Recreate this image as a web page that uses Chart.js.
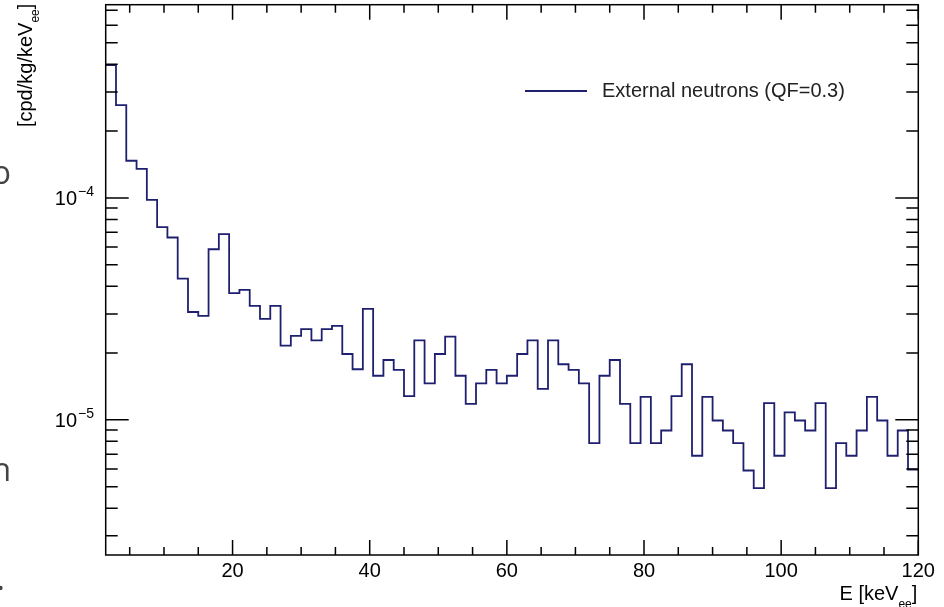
<!DOCTYPE html>
<html>
<head>
<meta charset="utf-8">
<script src="https://cdn.jsdelivr.net/npm/chart.js@4.4.1/dist/chart.umd.min.js"></script>
<style>
  html, body { margin: 0; padding: 0; background: #fff; }
  canvas { display: block; }
</style>
</head>
<body>
<canvas id="spectrum" width="944" height="607"></canvas>
<script>
// Histogram: 79 bins of 1.5 keV, from 1.5 to 120 keV
const BIN_LOW = 1.5;
const BIN_WIDTH = 1.5;
const binValues = [
    3.97e-4, 2.62e-4, 1.47e-4, 1.35e-4, 9.8e-5, 7.38e-5, 6.63e-5, 4.33e-5, 3.06e-5, 2.94e-5,
    5.87e-5, 6.86e-5, 3.72e-5, 3.85e-5, 3.26e-5, 2.85e-5, 3.26e-5, 2.16e-5, 2.39e-5, 2.56e-5,
    2.28e-5, 2.56e-5, 2.65e-5, 1.98e-5, 1.69e-5, 3.16e-5, 1.58e-5, 1.86e-5, 1.68e-5, 1.28e-5,
    2.28e-5, 1.46e-5, 1.98e-5, 2.37e-5, 1.58e-5, 1.18e-5, 1.46e-5, 1.68e-5, 1.46e-5, 1.58e-5,
    1.98e-5, 2.28e-5, 1.38e-5, 2.28e-5, 1.78e-5, 1.68e-5, 1.46e-5, 7.85e-6, 1.58e-5, 1.86e-5,
    1.18e-5, 7.85e-6, 1.27e-5, 7.85e-6, 8.95e-6, 1.28e-5, 1.78e-5, 6.89e-6, 1.27e-5, 9.93e-6,
    8.95e-6, 7.85e-6, 5.91e-6, 4.92e-6, 1.19e-5, 6.89e-6, 1.08e-5, 9.93e-6, 8.95e-6, 1.19e-5,
    4.92e-6, 7.85e-6, 6.89e-6, 8.95e-6, 1.27e-5, 9.93e-6, 6.89e-6, 8.95e-6, 5.96e-6
];

const xTickValues = [20, 40, 60, 80, 100, 120];
const xTickLabels = ['20', '40', '60', '80', '100', '120'];
const yTickValues = [1e-5, 1e-4];
const yTickLabels = [['10', '\u22125'], ['10', '\u22124']];

const seriesLabel = 'External neutrons (QF=0.3)';
const xTitle = ['E [keV', 'ee', ']'];
const yTitle = ['[cpd/kg/keV', 'ee', ']'];

const X_MIN = 1.5, X_MAX = 120;
const Y_MIN = 2.46e-6, Y_MAX = 7.42e-4;

const FONT = '"Liberation Sans", Arial, Helvetica, sans-serif';
const LINE_COLOR = '#1f1f70';

// Points on the bin low edges, plus the closing edge of the last bin
function buildPoints() {
    const pts = binValues.map((v, i) => ({ x: BIN_LOW + i * BIN_WIDTH, y: v }));
    pts.push({ x: BIN_LOW + binValues.length * BIN_WIDTH, y: binValues[binValues.length - 1] });
    return pts;
}

/**
 * Cadre, graduations intérieures (style ROOT), titres et légende
 */
const rootFrame = {
    id: 'rootFrame',
    afterDatasetsDraw(chart) {
        const c = chart.ctx;
        const area = chart.chartArea;
        const xs = chart.scales.x;
        const ys = chart.scales.y;

        c.save();
        c.strokeStyle = '#000';
        c.lineWidth = 1.5;

        // ticks x (bas et haut)
        c.beginPath();
        for (let v = 5; v <= X_MAX; v += 5) {
            const px = xs.getPixelForValue(v);
            const len = (v % 20 === 0) ? 15 : 8;
            c.moveTo(px, area.bottom); c.lineTo(px, area.bottom - len);
            c.moveTo(px, area.top); c.lineTo(px, area.top + len);
        }
        // ticks y (gauche et droite)
        for (let d = -6; d <= -4; d++) {
            for (let m = 1; m <= 9; m++) {
                const v = m * Math.pow(10, d);
                if (v < Y_MIN || v > Y_MAX) continue;
                const py = ys.getPixelForValue(v);
                const len = (m === 1) ? 23 : 12;
                c.moveTo(area.left, py); c.lineTo(area.left + len, py);
                c.moveTo(area.right, py); c.lineTo(area.right - len, py);
            }
        }
        c.stroke();

        // cadre
        c.strokeRect(area.left, area.top, area.right - area.left, area.bottom - area.top);

        // labels y : 10 avec exposant
        c.fillStyle = '#000';
        yTickValues.forEach((v, i) => {
            const py = ys.getPixelForValue(v);
            c.font = '20px ' + FONT;
            c.textAlign = 'right';
            c.textBaseline = 'middle';
            c.fillText(yTickLabels[i][0], 77, py + 2);
            c.font = '14px ' + FONT;
            c.textAlign = 'left';
            c.fillText(yTickLabels[i][1], 78, py - 6);
        });

        // titre x, aligné à droite
        c.textBaseline = 'alphabetic';
        c.font = '20px ' + FONT;
        const wBr = c.measureText(xTitle[2]).width;
        c.font = '12px ' + FONT;
        const wSub = c.measureText(xTitle[1]).width;
        let xr = area.right - 1;
        c.font = '20px ' + FONT;
        c.textAlign = 'right';
        c.fillText(xTitle[2], xr, 600);
        xr -= wBr;
        c.font = '12px ' + FONT;
        c.fillText(xTitle[1], xr, 608);
        xr -= wSub;
        c.font = '20px ' + FONT;
        c.fillText(xTitle[0], xr, 600);

        // titre y, vertical, aligné en haut
        c.save();
        c.translate(32, area.top - 1);
        c.rotate(-Math.PI / 2);
        c.textAlign = 'right';
        c.font = '20px ' + FONT;
        const yBr = c.measureText(yTitle[2]).width;
        c.font = '12px ' + FONT;
        const ySub = c.measureText(yTitle[1]).width;
        let yr = 0;
        c.font = '20px ' + FONT;
        c.fillText(yTitle[2], yr, 0);
        yr -= yBr;
        c.font = '12px ' + FONT;
        c.fillText(yTitle[1], yr, 7);
        yr -= ySub;
        c.font = '20px ' + FONT;
        c.fillText(yTitle[0], yr, 0);
        c.restore();

        // légende
        c.strokeStyle = LINE_COLOR;
        c.lineWidth = 1.8;
        c.beginPath();
        c.moveTo(525, 91); c.lineTo(587, 91);
        c.stroke();
        c.fillStyle = '#222';
        c.font = '20px ' + FONT;
        c.textAlign = 'left';
        c.textBaseline = 'middle';
        c.fillText(seriesLabel, 602, 91);

        // fragments de texte coupés au bord gauche
        c.fillStyle = '#444';
        c.font = '32px "Open Sans", sans-serif';
        c.textAlign = 'right';
        c.textBaseline = 'alphabetic';
        c.fillText('o', 11, 184);
        c.fillText('n', 11, 481);
        c.fillText('.', 5, 590);

        c.restore();
    }
};

document.addEventListener('DOMContentLoaded', function() {
    const ctx = document.getElementById('spectrum').getContext('2d');
    new Chart(ctx, {
        type: 'line',
        data: {
            datasets: [{
                label: seriesLabel,
                data: buildPoints(),
                stepped: true,
                borderColor: LINE_COLOR,
                borderWidth: 1.8,
                pointRadius: 0,
                fill: false,
                tension: 0
            }]
        },
        options: {
            responsive: false,
            animation: false,
            layout: { padding: { left: 105.7, right: 25.7, top: 4.7, bottom: 0 } },
            plugins: {
                legend: { display: false },
                tooltip: { enabled: false }
            },
            scales: {
                x: {
                    type: 'linear',
                    min: X_MIN,
                    max: X_MAX,
                    grid: { display: false, drawTicks: false },
                    border: { display: false },
                    afterBuildTicks: (s) => { s.ticks = xTickValues.map(v => ({ value: v })); },
                    afterFit: (s) => { s.height = 52; },
                    ticks: {
                        autoSkip: false,
                        maxRotation: 0,
                        padding: 4,
                        color: '#000',
                        font: { family: FONT, size: 20 },
                        callback: (v) => xTickLabels[xTickValues.indexOf(v)]
                    }
                },
                y: {
                    type: 'logarithmic',
                    min: Y_MIN,
                    max: Y_MAX,
                    display: false
                }
            }
        },
        plugins: [rootFrame]
    });
});
</script>
</body>
</html>
